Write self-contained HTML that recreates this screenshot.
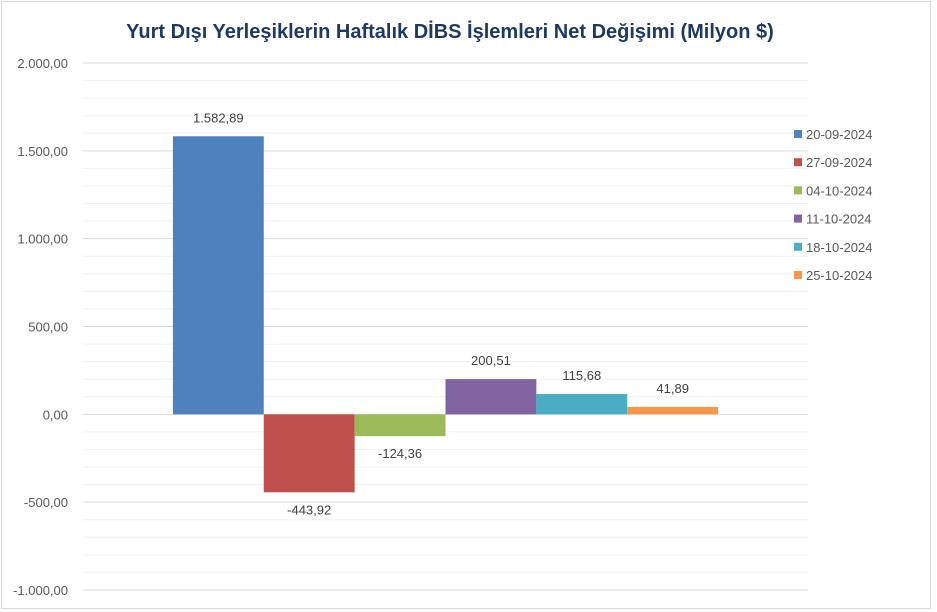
<!DOCTYPE html>
<html><head><meta charset="utf-8"><style>
body{margin:0;background:#fff;font-family:"Liberation Sans",sans-serif;}
svg{display:block}
</style></head><body>
<svg width="937" height="612" xmlns="http://www.w3.org/2000/svg">
<rect x="0" y="0" width="937" height="612" fill="#fff"/>
<rect x="1.5" y="1.5" width="929" height="607" fill="#fff" stroke="#d9d9d9"/>
<text x="450" y="38" text-anchor="middle" font-size="20" font-weight="bold" fill="#1f3864">Yurt Dışı Yerleşiklerin Haftalık DİBS İşlemleri Net Değişimi (Milyon $)</text>
<g id="grid"></g><g id="bars"></g><g id="labels"></g><g id="legend"></g>
</svg>
<script>
const categories=["20-09-2024","27-09-2024","04-10-2024","11-10-2024","18-10-2024","25-10-2024"];
const values=[1582.89,-443.92,-124.36,200.51,115.68,41.89];
const valueLabels=["1.582,89","-443,92","-124,36","200,51","115,68","41,89"];
const colors=["#4f81bd","#c0504d","#9bbb59","#8064a2","#4bacc6","#f79646"];
const ticks=[2000,1500,1000,500,0,-500,-1000];
const tickLabels=["2.000,00","1.500,00","1.000,00","500,00","0,00","-500,00","-1.000,00"];
const NS="http://www.w3.org/2000/svg";
const x0=83,x1=808,yTop=63,yBot=590,vMax=2000,vMin=-1000;
function y(v){return yTop+(vMax-v)/(vMax-vMin)*(yBot-yTop);}
function mk(t,a,p){const e=document.createElementNS(NS,t);for(const k in a)e.setAttribute(k,a[k]);document.getElementById(p).appendChild(e);return e;}
for(let v=vMin;v<=vMax;v+=100){
 const major=v%500===0;
 const l=mk("line",{x1:x0,x2:x1,y1:y(v),y2:y(v),stroke:major?"#d9d9d9":"#f0f0f0","stroke-width":1},"grid");
 
 
}
ticks.forEach((t,i)=>{
 const e=mk("text",{x:68,y:y(t)+5,"text-anchor":"end","font-size":13,fill:"#595959"},"labels");
 e.textContent=tickLabels[i];
 
 
});
const groupW=(x1-x0)*0.752,bw=groupW/categories.length,gx=(x0+x1)/2-groupW/2;
values.forEach((v,i)=>{
 const bx=gx+i*bw,top=Math.min(y(v),y(0)),h=Math.abs(y(v)-y(0));
 const r=mk("rect",{x:bx,y:top,width:bw,height:h,fill:colors[i]},"bars");
 
 
 const ty=v>=0?y(v)-14:y(v)+22;
 const t=mk("text",{x:bx+bw/2,y:ty,"text-anchor":"middle","font-size":13,fill:"#404040"},"labels");
 t.textContent=valueLabels[i];
 
 
});
categories.forEach((c,i)=>{
 const ly=135+i*28.2;
 const s=mk("rect",{x:794,y:ly-5,width:8,height:8,fill:colors[i]},"legend");
 
 
 const t=mk("text",{x:806,y:ly+4,"font-size":13,fill:"#595959"},"legend");
 t.textContent=c;
 
 
});
</script>
</body></html>
